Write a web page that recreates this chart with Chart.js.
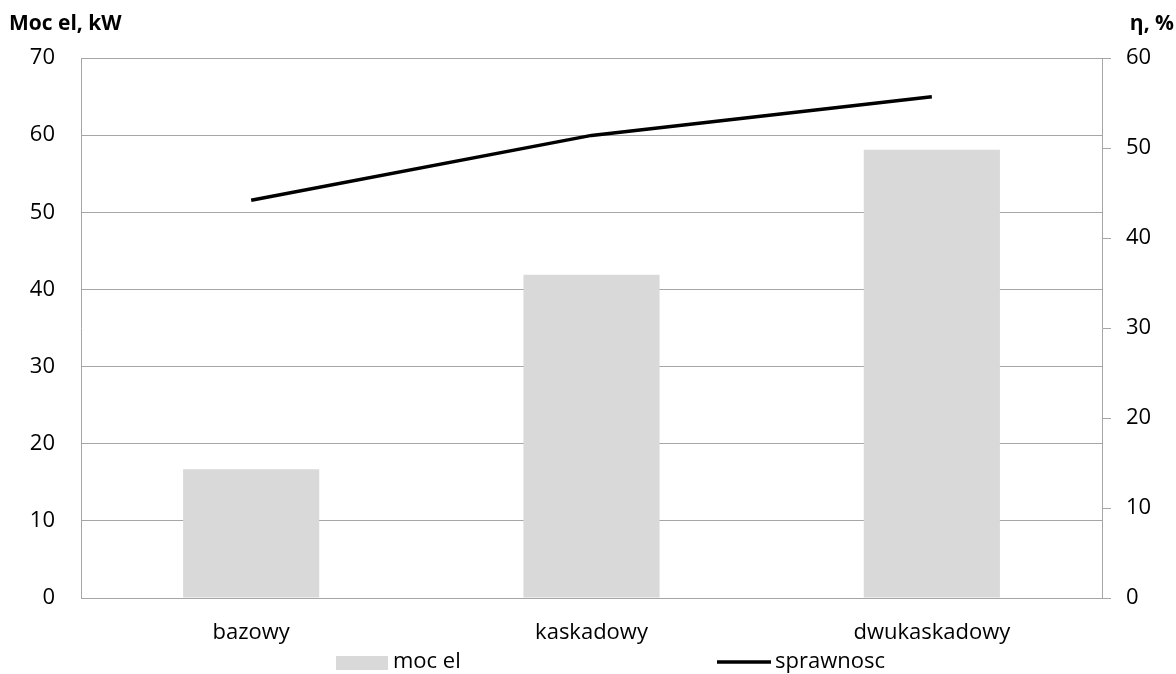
<!DOCTYPE html>
<html>
<head>
<meta charset="utf-8">
<script src="https://cdn.jsdelivr.net/npm/chart.js@4"></script>
<style>
  html, body { margin: 0; padding: 0; background: #fff; }
  #wrap { width: 1176px; height: 674px; }
</style>
</head>
<body>
<div id="wrap"><canvas id="mocChart"></canvas></div>
<script>
// Warianty układu
const labels = ['bazowy', 'kaskadowy', 'dwukaskadowy'];
// Moc elektryczna, kW
const mocEl = [16.7, 41.9, 58.1];
// Sprawność, %
const sprawnosc = [44.2, 51.4, 55.7];

const FONT = "'Open Sans', sans-serif";
const GRID = '#a6a6a6';

// Tytuły osi i legenda rysowane ręcznie
const extras = {
    id: 'extras',
    afterDraw(chart) {
        const ctx = chart.ctx;
        ctx.save();
        ctx.fillStyle = '#000';
        ctx.textBaseline = 'middle';
        ctx.font = 'bold 21px ' + FONT;
        ctx.textAlign = 'left';
        ctx.fillText('Moc el, kW', 9, 24);
        ctx.textAlign = 'right';
        ctx.fillText('η, %', 1174, 24);

        // legenda
        ctx.font = '22px ' + FONT;
        ctx.textAlign = 'left';
        const ds = chart.data.datasets;
        ctx.fillStyle = ds[0].backgroundColor;
        ctx.fillRect(336, 656, 52, 14);
        ctx.fillStyle = '#000';
        ctx.fillText(ds[0].label, 393, 662);

        ctx.strokeStyle = ds[1].borderColor;
        ctx.lineWidth = 3.5;
        ctx.beginPath();
        ctx.moveTo(717, 662);
        ctx.lineTo(771, 662);
        ctx.stroke();
        ctx.fillText(ds[1].label, 775, 662);
        ctx.restore();
    }
};

new Chart(document.getElementById('mocChart'), {
    data: {
        labels: labels,
        datasets: [
            {
                type: 'line',
                label: 'sprawnosc',
                data: sprawnosc,
                yAxisID: 'y1',
                borderColor: '#000',
                backgroundColor: '#000',
                borderWidth: 3.5,
                pointRadius: 0,
                tension: 0,
                order: 0
            },
            {
                type: 'bar',
                label: 'moc el',
                data: mocEl,
                yAxisID: 'y',
                backgroundColor: '#d9d9d9',
                categoryPercentage: 1,
                barPercentage: 0.4,
                order: 1
            }
        ].reverse()
    },
    options: {
        responsive: true,
        maintainAspectRatio: false,
        animation: false,
        layout: { padding: { top: 58, left: 0, right: 0, bottom: 0 } },
        plugins: {
            legend: { display: false },
            tooltip: { enabled: false }
        },
        scales: {
            x: {
                grid: { display: false },
                border: { color: GRID },
                ticks: { color: '#000', font: { family: FONT, size: 22 }, padding: 14 },
                afterFit(s) { s.height = 76; }
            },
            y: {
                position: 'left',
                min: 0,
                max: 70,
                ticks: { stepSize: 10, color: '#000', font: { family: FONT, size: 22 }, padding: 26 },
                grid: { color: GRID, drawTicks: false },
                border: { color: GRID },
                afterFit(s) { s.width = 81; }
            },
            y1: {
                position: 'right',
                min: 0,
                max: 60,
                ticks: { stepSize: 10, color: '#000', font: { family: FONT, size: 22 }, padding: 15 },
                grid: { drawOnChartArea: false, color: GRID, tickLength: 9 },
                border: { color: GRID },
                afterFit(s) { s.width = 74; }
            }
        }
    },
    plugins: [extras]
});
</script>
</body>
</html>
